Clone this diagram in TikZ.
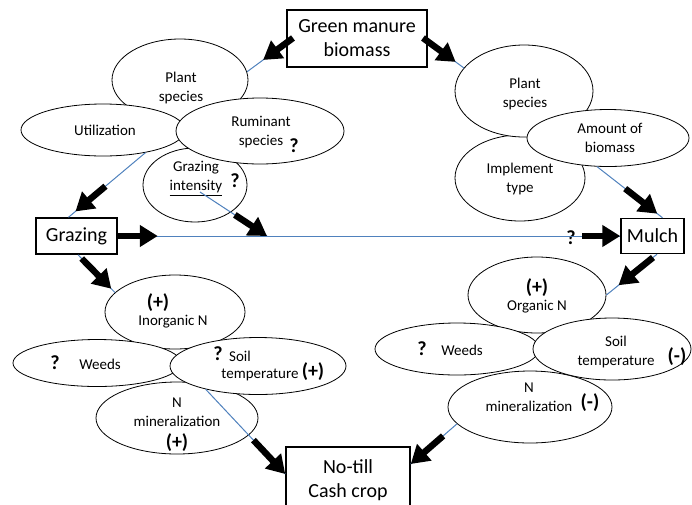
\documentclass[tikz,border=0pt]{standalone}
\usepackage{fontspec}
\setmainfont{Carlito}
\usetikzlibrary{shapes.geometric,arrows.meta,calc}
\definecolor{blueline}{RGB}{79,129,189}
\begin{document}
\begin{tikzpicture}[x=1pt,y=-1pt,
 ell/.style={draw, ellipse, fill=white, line width=0.8pt, inner sep=0pt},
 box/.style={draw, line width=1.5pt, fill=white, inner sep=0pt, font=\fontsize{20}{24}\selectfont, align=center},
 lbl/.style={font=\fontsize{15}{19}\selectfont, align=center, inner sep=0pt},
 sgn/.style={font=\bfseries\fontsize{20}{20}\selectfont, inner sep=0pt},
 conn/.style={draw=blueline, line width=1pt},
 fat/.style={line width=6.5pt, -{Triangle[length=18pt,width=21pt]}}]
\useasboundingbox (0,0) rectangle (692,504);
\clip (0,0) rectangle (692,504);

% boxes
\node[box, minimum width=140pt, minimum height=57pt] (GM) at (357,38.5) {Green manure\\biomass};
\node[box, minimum width=81pt, minimum height=36pt] (GR) at (76.5,236) {Grazing};
\node[box, minimum width=63pt, minimum height=35pt] (MU) at (652.5,236) {Mulch};
\node[box, minimum width=124pt, minimum height=66pt] (NT) at (348,480) {No-till\\Cash crop};

% top-left cluster
\node[ell, minimum width=136pt, minimum height=82pt] (PS1) at (180,80) {};
\node[ell, minimum width=104pt, minimum height=74pt] (GI) at (195,185) {};
\node[ell, minimum width=164pt, minimum height=52pt] (UT) at (103,130) {};
\node[ell, minimum width=168pt, minimum height=66pt] (RU) at (260,131) {};

% top-right cluster
\node[ell, minimum width=130pt, minimum height=86pt] (IM) at (520,178) {};
\node[ell, minimum width=138pt, minimum height=92pt] (PS2) at (524,91) {};
\node[ell, minimum width=162pt, minimum height=57pt] (AM) at (608,138) {};

% bottom-left cluster
\node[ell, minimum width=140pt, minimum height=74pt] (IN) at (175,312) {};
\node[ell, minimum width=162pt, minimum height=72pt] (NM1) at (177,418) {};
\node[ell, minimum width=168pt, minimum height=47pt] (WE1) at (97,363) {};
\node[ell, minimum width=176pt, minimum height=57pt] (ST1) at (258,366) {};

% bottom-right cluster
\node[ell, minimum width=138pt, minimum height=76pt] (ON) at (537,295) {};
\node[ell, minimum width=164pt, minimum height=72pt] (NM2) at (530,407) {};
\node[ell, minimum width=164pt, minimum height=52pt] (WE2) at (457,349) {};
\node[ell, minimum width=158pt, minimum height=62pt] (ST2) at (612,349) {};

% labels
\node[lbl] (l1) at (181,87.5) {Plant\\species};
\node[lbl] (l2) at (105,130) {Utilization};
\node[lbl] (l3) at (261,132) {Ruminant\\species};
\node[sgn] (q1) at (294,146) {?};
\node[lbl] (l4) at (196,178.5) {Grazing\\\underline{intensity}};
\node[sgn] (q2) at (235,181) {?};

\node[lbl] (l5) at (525,94) {Plant\\species};
\node[lbl] (l6) at (610,137.5) {Amount of\\biomass};
\node[lbl] (l7) at (520,179) {Implement\\type};

\node[sgn] (p1) at (158,303) {(+)};
\node[lbl] (l8) at (173,322) {Inorganic N};
\node[sgn] (q3) at (55,363) {?};
\node[lbl] (l9) at (100,364) {Weeds};
\node[sgn] (q4) at (218,354) {?};
\node[lbl] (l10) at (240,356) {Soil};
\node[lbl] (l11) at (260,375) {temperature};
\node[sgn] (p2) at (313,372) {(+)};
\node[lbl] (l12) at (177,412.5) {N\\mineralization};
\node[sgn] (p3) at (177,443) {(+)};

\node[sgn] (p4) at (537,288) {(+)};
\node[lbl] (l13) at (537,307) {Organic N};
\node[sgn] (q5) at (422,349) {?};
\node[lbl] (l14) at (462,350) {Weeds};
\node[lbl] (l15) at (616,352) {Soil\\temperature};
\node[sgn] (m1) at (677,357) {(-)};
\node[lbl] (l16) at (529,397.5) {N\\mineralization};
\node[sgn] (m2) at (590,403) {(-)};

\node[sgn] (q6) at (571,238) {?};

% connector end points
\coordinate (gmL) at (293,38);
\coordinate (gmR) at (423,38);
\coordinate (gis) at (200,192);
\coordinate (jn) at (267,236);
\coordinate (grN) at ([xshift=-8pt]GR.north);
\coordinate (grS) at ([xshift=1.5pt]GR.south);
\coordinate (muN) at ([xshift=10pt]MU.north);
\coordinate (muS) at ([xshift=4.5pt]MU.south);
\coordinate (ntW) at ([yshift=6pt]NT.west);
\coordinate (ntE) at ([yshift=16pt]NT.east);

% thin blue connectors
\draw[conn] (gmL) -- (PS1.7);
\draw[conn] (gmR) -- (PS2.159);
\draw[conn] (UT.-28) -- (grN);
\draw[conn] (gis) -- (jn);
\draw[conn] (GR.east) -- (MU.west);
\draw[conn] (AM.-111) -- (muN);
\draw[conn] (grS) -- (IN.162);
\draw[conn] (muS) -- (ON.0);
\draw[conn] (ST1.-156) -- (ntW);
\draw[conn] (NM2.-167) -- (ntE);

% thick black arrows
\draw[fat] (gmL) -- ($(gmL)!0.65!(PS1.7)$);
\draw[fat] (gmR) -- ($(gmR)!0.8!(PS2.159)$);
\draw[fat] ($(UT.-28)!0.52!(grN)$) -- ($(UT.-28)!0.91!(grN)$);
\draw[fat] ($(gis)!0.52!(jn)$) -- (jn);
\draw[fat] (GR.east) -- ++(40,0);
\draw[fat] ($(MU.west)+(-38,0)$) -- (MU.west);
\draw[fat] ($(AM.-111)!0.43!(muN)$) -- ($(AM.-111)!0.92!(muN)$);
\draw[fat] ($(grS)!0.1!(IN.162)$) -- ($(grS)!0.9!(IN.162)$);
\draw[fat] ($(muS)!0.08!(ON.0)$) -- ($(muS)!0.76!(ON.0)$);
\draw[fat] ($(ST1.-156)!0.6!(ntW)$) -- (ntW);
\draw[fat] ($(NM2.-167)!0.3!(ntE)$) -- (ntE);
\end{tikzpicture}
\end{document}
